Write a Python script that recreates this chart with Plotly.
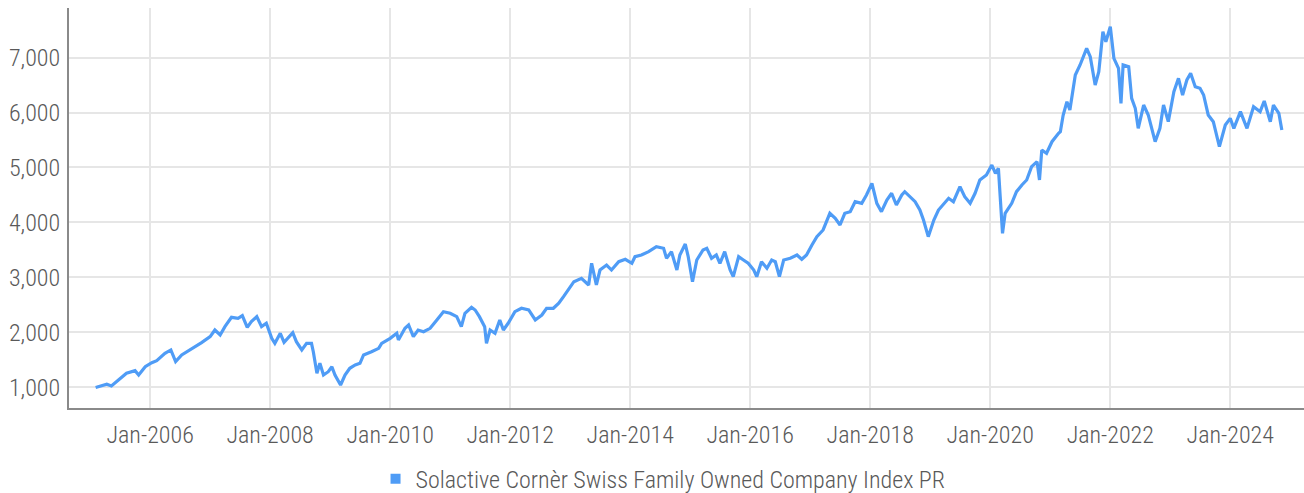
import plotly.graph_objects as go

series_name = "Solactive Cornèr Swiss Family Owned Company Index PR"

dates = [
    "2005-02-03", "2005-04-12", "2005-05-10", "2005-06-20", "2005-08-10", "2005-10-01", "2005-10-23", "2005-12-02",
    "2006-01-11", "2006-02-10", "2006-04-01", "2006-05-07", "2006-06-05", "2006-07-12", "2006-09-09", "2006-11-10",
    "2007-01-01", "2007-01-30", "2007-03-03", "2007-04-01", "2007-05-11", "2007-06-20", "2007-07-16", "2007-08-15",
    "2007-09-09", "2007-10-12", "2007-11-10", "2007-12-09",
    "2008-01-11", "2008-01-30", "2008-03-03", "2008-03-26", "2008-05-18", "2008-06-09", "2008-07-12", "2008-08-10",
    "2008-09-09", "2008-09-20", "2008-10-12", "2008-10-30", "2008-11-21", "2008-12-20",
    "2009-01-11", "2009-01-30", "2009-03-05", "2009-04-01", "2009-04-30", "2009-06-02", "2009-07-01", "2009-07-23",
    "2009-09-09", "2009-10-23", "2009-11-10",
    "2010-01-01", "2010-02-10", "2010-02-20", "2010-04-01", "2010-04-23", "2010-05-22", "2010-06-20", "2010-07-23",
    "2010-09-01", "2010-10-12", "2010-11-21",
    "2011-01-01", "2011-02-10", "2011-03-10", "2011-04-01", "2011-05-11", "2011-06-02", "2011-06-28", "2011-07-30",
    "2011-08-10", "2011-09-01", "2011-10-01", "2011-10-30", "2011-11-21", "2011-12-20",
    "2012-01-30", "2012-03-10", "2012-04-23", "2012-06-02", "2012-07-12", "2012-08-10", "2012-09-20", "2012-10-23",
    "2012-11-21", "2012-12-20",
    "2013-01-23", "2013-03-10", "2013-04-23", "2013-05-11", "2013-06-09", "2013-07-01", "2013-08-10", "2013-09-09",
    "2013-10-23", "2013-12-02",
    "2014-01-11", "2014-01-30", "2014-03-10", "2014-04-23", "2014-06-09", "2014-07-23", "2014-08-10", "2014-09-09",
    "2014-10-12", "2014-10-30", "2014-12-02", "2014-12-20",
    "2015-01-15", "2015-02-10", "2015-03-20", "2015-04-12", "2015-05-11", "2015-06-09", "2015-07-01", "2015-07-30",
    "2015-09-01", "2015-09-20", "2015-10-23", "2015-11-21", "2015-12-20",
    "2016-01-23", "2016-02-10", "2016-03-10", "2016-04-12", "2016-05-11", "2016-06-02", "2016-06-27", "2016-07-23",
    "2016-09-01", "2016-10-12", "2016-11-10", "2016-12-09",
    "2017-01-11", "2017-02-10", "2017-03-20", "2017-04-30", "2017-06-02", "2017-07-01", "2017-07-30", "2017-09-01",
    "2017-10-01", "2017-11-10", "2017-12-09",
    "2018-01-11", "2018-02-10", "2018-03-10", "2018-04-12", "2018-05-11", "2018-06-09", "2018-07-12", "2018-07-30",
    "2018-09-01", "2018-10-01", "2018-10-30", "2018-11-21", "2018-12-20",
    "2019-01-23", "2019-02-20", "2019-03-20", "2019-04-23", "2019-05-22", "2019-07-01", "2019-07-30", "2019-09-01",
    "2019-10-01", "2019-10-30", "2019-12-09",
    "2020-01-11", "2020-02-02", "2020-02-20", "2020-03-16", "2020-04-01", "2020-05-11", "2020-06-09", "2020-07-12",
    "2020-08-10", "2020-09-09", "2020-10-12", "2020-10-27", "2020-11-10", "2020-12-09",
    "2021-01-11", "2021-02-20", "2021-03-03", "2021-03-20", "2021-04-12", "2021-04-30", "2021-06-02", "2021-07-01",
    "2021-08-10", "2021-09-01", "2021-10-01", "2021-10-23", "2021-11-17", "2021-12-05",
    "2022-01-01", "2022-01-23", "2022-02-20", "2022-03-07", "2022-03-20", "2022-04-23", "2022-05-11", "2022-06-02",
    "2022-06-20", "2022-07-23", "2022-08-20", "2022-10-01", "2022-10-30", "2022-11-21", "2022-12-20",
    "2023-01-23", "2023-02-20", "2023-03-17", "2023-04-12", "2023-05-05", "2023-06-02", "2023-07-01", "2023-07-23",
    "2023-08-20", "2023-09-20", "2023-10-27", "2023-12-02",
    "2024-01-01", "2024-01-23", "2024-03-03", "2024-04-12", "2024-05-22", "2024-07-01", "2024-07-26", "2024-09-01",
    "2024-09-20", "2024-10-23", "2024-11-10",
]

values = [
    1000, 1058, 1027, 1136, 1258, 1305, 1227, 1378,
    1451, 1487, 1620, 1682, 1470, 1591, 1694, 1815,
    1924, 2045, 1955, 2106, 2276, 2258, 2306, 2094,
    2197, 2288, 2106, 2167,
    1894, 1803, 1985, 1820, 1997, 1833, 1682, 1803,
    1803, 1651, 1258, 1440, 1227, 1287,
    1378, 1227, 1045, 1227, 1349, 1409, 1440, 1591,
    1651, 1712, 1803,
    1894, 1985, 1864, 2076, 2136, 1924, 2045, 2015,
    2076, 2227, 2378,
    2349, 2288, 2106, 2349, 2458, 2409, 2288, 2106,
    1803, 2045, 1985, 2227, 2045, 2167,
    2378, 2440, 2409, 2227, 2318, 2440, 2440, 2531,
    2651, 2773,
    2924, 2985, 2864, 3258, 2864, 3136, 3227, 3136,
    3287, 3331,
    3258, 3378, 3409, 3469, 3560, 3531, 3349, 3469,
    3136, 3409, 3609, 3378,
    2924, 3318, 3500, 3531, 3349, 3409, 3258, 3469,
    3136, 3015, 3378, 3318, 3258,
    3136, 3015, 3287, 3167, 3318, 3287, 3015, 3318,
    3349, 3409, 3331, 3409,
    3591, 3742, 3864, 4167, 4076, 3955, 4167, 4197,
    4378, 4349, 4500,
    4712, 4349, 4197, 4409, 4531, 4318, 4500, 4560,
    4470, 4378, 4227, 4045, 3742,
    4045, 4227, 4318, 4440, 4378, 4651, 4470, 4349,
    4531, 4773, 4864,
    5045, 4894, 4985, 3803, 4167, 4349, 4560, 4682,
    4773, 5015, 5106, 4773, 5318, 5258,
    5469, 5621, 5651, 5950, 6197, 6045, 6682, 6864,
    7167, 7015, 6500, 6742, 7469, 7287,
    7560, 6985, 6803, 6167, 6864, 6833, 6258, 6076,
    5712, 6136, 5955, 5469, 5712, 6136, 5833,
    6378, 6621, 6318, 6591, 6712, 6470, 6440, 6318,
    5955, 5833, 5378, 5773,
    5894, 5712, 6015, 5712, 6106, 6015, 6209, 5833,
    6136, 5985, 5682,
]

y_ticks = [1000, 2000, 3000, 4000, 5000, 6000, 7000]
x_ticks = ["2006-01-01", "2008-01-01", "2010-01-01", "2012-01-01", "2014-01-01",
           "2016-01-01", "2018-01-01", "2020-01-01", "2022-01-01", "2024-01-01"]
x_tick_labels = ["Jan-2006", "Jan-2008", "Jan-2010", "Jan-2012", "Jan-2014",
                 "Jan-2016", "Jan-2018", "Jan-2020", "Jan-2022", "Jan-2024"]

line_color = "#4f9cf6"
text_color = "#595959"
font_family = "Roboto Condensed, Roboto, sans-serif"

fig = go.Figure()
fig.add_trace(go.Scatter(
    x=dates, y=values, mode="lines",
    line=dict(color=line_color, width=3.2),
    showlegend=False, name=series_name,
))
fig.add_trace(go.Scatter(
    x=[None], y=[None], mode="markers",
    marker=dict(symbol="square", color=line_color, size=10),
    name=series_name, showlegend=True,
))

fig.update_layout(
    width=1304, height=493,
    margin=dict(l=69, r=0, t=8, b=85, autoexpand=False),
    paper_bgcolor="white", plot_bgcolor="white",
    font=dict(family=font_family, size=24, color=text_color, weight=300),
    legend=dict(orientation="h", x=0.481, xanchor="center", y=-0.178, yanchor="middle",
                font=dict(family=font_family, size=24, color=text_color, weight=300),
                itemwidth=30, tracegroupgap=0, bgcolor="rgba(0,0,0,0)"),
    xaxis=dict(
        type="date", range=["2004-08-25", "2025-03-25"],
        tickvals=x_ticks, ticktext=x_tick_labels,
        showgrid=True, gridcolor="#e6e6e6", gridwidth=2,
        showline=True, linecolor="#8a8a8a", linewidth=2,
        ticks="", zeroline=False, automargin=False, ticklabelstandoff=4,
    ),
    yaxis=dict(
        range=[627, 7900], tickvals=y_ticks, tickformat=",d",
        showgrid=True, gridcolor="#e6e6e6", gridwidth=2,
        showline=True, linecolor="#8a8a8a", linewidth=2,
        ticks="", zeroline=False, automargin=False, ticklabelstandoff=2,
    ),
)

fig.write_html("out.html", config={"displayModeBar": False},
               post_script="document.body.style.margin='0';document.body.style.overflow='hidden';")
